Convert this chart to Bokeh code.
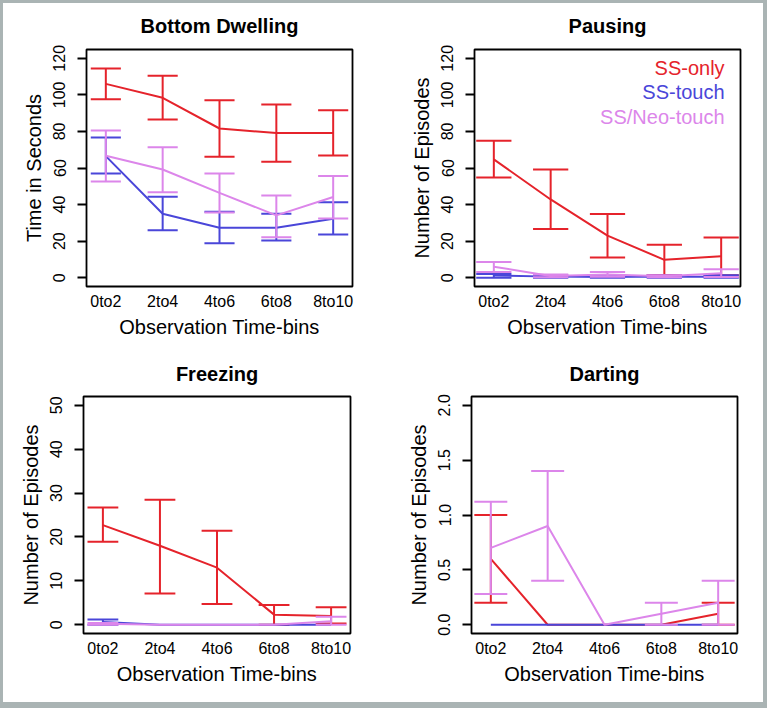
from bokeh.plotting import figure
from bokeh.layouts import column, row
from bokeh.models import FixedTicker, Label, ColumnDataSource, Range1d, PrintfTickFormatter
from bokeh.embed import file_html
from bokeh.resources import INLINE

bins = ["0to2", "2to4", "4to6", "6to8", "8to10"]
groups = ["SS-only", "SS-touch", "SS/Neo-touch"]
colors = ["#e5232b", "#4a46d9", "#dc86ea"]

# Bottom Dwelling (seconds)
bd_only_mean = [106.0, 98.4, 81.6, 79.1, 79.1]
bd_only_lo = [97.6, 86.5, 66.1, 63.4, 66.8]
bd_only_hi = [114.4, 110.4, 97.1, 94.7, 91.6]
bd_touch_mean = [66.5, 35.0, 27.3, 27.3, 32.2]
bd_touch_lo = [57.0, 25.9, 18.8, 20.4, 23.7]
bd_touch_hi = [76.7, 44.3, 36.1, 35.0, 41.3]
bd_neo_mean = [66.7, 59.2, 46.4, 34.1, 44.1]
bd_neo_lo = [52.6, 46.8, 35.7, 22.2, 32.4]
bd_neo_hi = [80.5, 71.4, 57.0, 45.0, 55.6]

# Pausing (episodes)
pa_only_mean = [64.7, 42.8, 23.0, 9.8, 11.7]
pa_only_lo = [54.8, 26.6, 11.1, 1.5, 1.3]
pa_only_hi = [74.9, 59.2, 34.8, 18.0, 22.0]
pa_touch_mean = [1.2, 0.6, 0.4, 0.6, 0.6]
pa_touch_lo = [0.0, 0.0, 0.0, 0.0, 0.0]
pa_touch_hi = [2.0, 1.2, 0.8, 1.2, 1.3]
pa_neo_mean = [6.0, 1.0, 1.8, 0.8, 2.5]
pa_neo_lo = [3.1, 0.3, 0.5, 0.2, 0.4]
pa_neo_hi = [8.6, 1.7, 3.1, 1.4, 4.7]

# Freezing (episodes)
fr_only_mean = [22.7, 18.0, 13.0, 2.3, 2.0]
fr_only_lo = [18.9, 7.1, 4.7, 0.0, 0.3]
fr_only_hi = [26.7, 28.5, 21.4, 4.5, 4.0]
fr_touch_mean = [0.6, 0.0, 0.0, 0.0, 0.0]
fr_touch_lo = [0.0, 0.0, 0.0, 0.0, 0.0]
fr_touch_hi = [1.2, 0.0, 0.0, 0.0, 0.0]
fr_neo_mean = [0.2, 0.0, 0.0, 0.0, 0.8]
fr_neo_lo = [0.0, 0.0, 0.0, 0.0, 0.0]
fr_neo_hi = [0.4, 0.0, 0.0, 0.0, 1.8]

# Darting (episodes)
da_only_mean = [0.6, 0.0, 0.0, 0.0, 0.1]
da_only_lo = [0.2, 0.0, 0.0, 0.0, 0.0]
da_only_hi = [1.0, 0.0, 0.0, 0.0, 0.2]
da_touch_mean = [0.0, 0.0, 0.0, 0.0, 0.0]
da_touch_lo = [0.0, 0.0, 0.0, 0.0, 0.0]
da_touch_hi = [0.0, 0.0, 0.0, 0.0, 0.0]
da_neo_mean = [0.7, 0.9, 0.0, 0.1, 0.2]
da_neo_lo = [0.28, 0.4, 0.0, 0.0, 0.0]
da_neo_hi = [1.12, 1.4, 0.0, 0.2, 0.4]

FONT = "Liberation Sans"
XPOS = [1, 2, 3, 4, 5]
XR = (0.66, 5.34)


def make_panel(title, ylabel, yticks, yrange, series, borders, cap, width, height,
               title_standoff, fmt=None):
    bl, br, bt, bb = borders
    p = figure(width=width, height=height, x_range=Range1d(*XR),
               y_range=Range1d(*yrange), output_backend="svg", toolbar_location=None,
               min_border_left=bl, min_border_right=br, min_border_top=bt,
               min_border_bottom=bb, title=title)
    p.xgrid.visible = False
    p.ygrid.visible = False
    p.outline_line_color = "black"
    p.outline_line_width = 1.8
    p.outline_line_alpha = 1.0
    p.background_fill_color = "white"
    p.border_fill_color = "white"

    p.title.text_font = FONT
    p.title.text_font_size = "20px"
    p.title.text_font_style = "bold"
    p.title.text_color = "black"
    p.title.align = "center"
    p.title.vertical_align = "top"
    p.title.standoff = title_standoff

    xa = p.xaxis[0]
    xa.ticker = FixedTicker(ticks=XPOS)
    xa.major_label_overrides = {x: b for x, b in zip(XPOS, bins)}
    xa.major_tick_out = 0
    xa.major_tick_in = 0
    xa.minor_tick_out = 0
    xa.minor_tick_in = 0
    xa.axis_line_color = None
    xa.major_label_text_font = FONT
    xa.major_label_text_font_size = "16px"
    xa.major_label_text_color = "black"
    xa.major_label_standoff = 6
    xa.axis_label = "Observation Time-bins"
    xa.axis_label_text_font = FONT
    xa.axis_label_text_font_size = "20px"
    xa.axis_label_text_font_style = "normal"
    xa.axis_label_text_color = "black"
    xa.axis_label_standoff = 3

    ya = p.yaxis[0]
    ya.ticker = FixedTicker(ticks=yticks, minor_ticks=[])
    ya.major_tick_out = 9
    ya.major_tick_in = 0
    ya.minor_tick_out = 0
    ya.minor_tick_in = 0
    ya.major_tick_line_width = 1.8
    ya.major_tick_line_color = "black"
    ya.axis_line_color = None
    ya.major_label_orientation = "vertical"
    ya.major_label_text_font = FONT
    ya.major_label_text_font_size = "16px"
    ya.major_label_text_color = "black"
    ya.major_label_standoff = 12
    if fmt:
        ya.formatter = PrintfTickFormatter(format=fmt)
    ya.axis_label = ylabel
    ya.axis_label_text_font = FONT
    ya.axis_label_text_font_size = "20px"
    ya.axis_label_text_font_style = "normal"
    ya.axis_label_text_color = "black"
    ya.axis_label_standoff = 6

    for (mean, lo, hi), col in zip(series, colors):
        p.line(XPOS, mean, line_color=col, line_width=2)
        xs = [x for x, l, h in zip(XPOS, lo, hi) if h > l]
        los = [l for l, h in zip(lo, hi) if h > l]
        his = [h for l, h in zip(lo, hi) if h > l]
        src = ColumnDataSource(dict(x=xs, x0=[x - cap for x in xs], x1=[x + cap for x in xs],
                                    lo=los, hi=his))
        p.segment(x0="x", y0="lo", x1="x", y1="hi", source=src, line_color=col, line_width=2)
        p.segment(x0="x0", y0="lo", x1="x1", y1="lo", source=src, line_color=col, line_width=2)
        p.segment(x0="x0", y0="hi", x1="x1", y1="hi", source=src, line_color=col, line_width=2)
    return p


p1 = make_panel("Bottom Dwelling", "Time in Seconds", [0, 20, 40, 60, 80, 100, 120], (-4.8, 124.8),
                [(bd_only_mean, bd_only_lo, bd_only_hi),
                 (bd_touch_mean, bd_touch_lo, bd_touch_hi),
                 (bd_neo_mean, bd_neo_lo, bd_neo_hi)],
                (83, 31, 46, 65), 0.265, 380, 348, 21)
p2 = make_panel("Pausing", "Number of Episodes", [0, 20, 40, 60, 80, 100, 120], (-4.8, 124.8),
                [(pa_only_mean, pa_only_lo, pa_only_hi),
                 (pa_touch_mean, pa_touch_lo, pa_touch_hi),
                 (pa_neo_mean, pa_neo_lo, pa_neo_hi)],
                (91, 23, 46, 65), 0.31, 380, 348, 21)
p3 = make_panel("Freezing", "Number of Episodes", [0, 10, 20, 30, 40, 50], (-2, 52),
                [(fr_only_mean, fr_only_lo, fr_only_hi),
                 (fr_touch_mean, fr_touch_lo, fr_touch_hi),
                 (fr_neo_mean, fr_neo_lo, fr_neo_hi)],
                (80, 33, 45, 69), 0.27, 380, 351, 20)
p4 = make_panel("Darting", "Number of Episodes", [0, 0.5, 1.0, 1.5, 2.0], (-0.08, 2.08),
                [(da_only_mean, da_only_lo, da_only_hi),
                 (da_touch_mean, da_touch_lo, da_touch_hi),
                 (da_neo_mean, da_neo_lo, da_neo_hi)],
                (88, 26, 45, 69), 0.29, 380, 351, 20, fmt="%.1f")

# legend in the Pausing panel
for name, col, yy in zip(groups, colors, [114.9, 101.8, 88.1]):
    p2.add_layout(Label(x=5.06, y=yy, text=name, text_align="right", text_baseline="middle",
                        text_color=col, text_font=FONT, text_font_size="20px"))

layout = column(row(p1, p2), row(p3, p4),
                styles={"background-color": "white", "border-style": "solid",
                        "border-color": "#aab4b4", "border-width": "3px 4px 6px 3px"})
open("out.html", "w").write(file_html(layout, INLINE))
